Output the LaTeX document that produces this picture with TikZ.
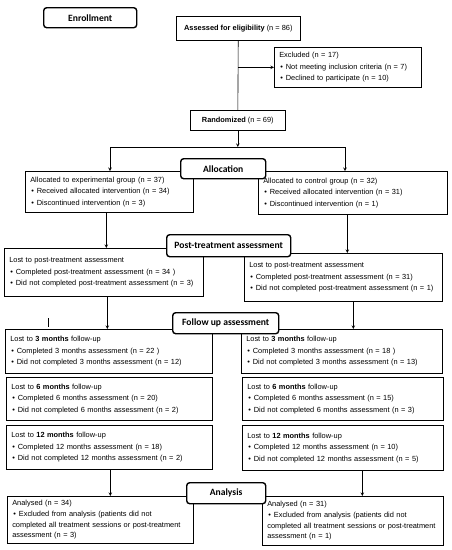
\documentclass[tikz,border=0pt]{standalone}
\usepackage{fontspec}
\setmainfont{Liberation Sans}
\newfontfamily\calibri{Carlito}
\newcommand{\itm}{\hspace*{1pt}\textbullet\hspace{3pt}}

\begin{document}
\begin{tikzpicture}[x=1pt,y=-1pt,>=stealth,line width=0.6pt,
    title node/.style={draw,rounded corners=3pt,line width=1.4pt,fill=white,anchor=north west,inner sep=0pt,font=\calibri\bfseries\fontsize{9.6}{11}\selectfont},
    box node/.style={draw,fill=white,anchor=north west,align=left,inner xsep=5pt,inner ysep=0pt,font=\fontsize{7.4}{11.5}\selectfont}]
                        \useasboundingbox (0,0) rectangle (451,550);

                        \node[title node,minimum width=93pt,minimum height=20pt] (1) at (43,7) {Enrollment};
                        \node[box node,align=center,minimum width=124pt,minimum height=24pt] (2) at (176,16) {\textbf{Assessed for eligibility} (n = 86)};
                        \node[box node,text width=137pt,minimum height=40pt] (3) at (274,47) {Excluded (n = 17)\\ \itm Not meeting inclusion criteria (n = 7)\\ \itm Declined to participate (n = 10)};
                        \node[box node,align=center,minimum width=95pt,minimum height=20pt] (4) at (190,110) {\textbf{Randomized} (n = 69)};

                        \node[box node,text width=158pt,minimum height=41pt] (6) at (25,171) {Allocated to experimental group (n = 37)\\ \itm Received allocated intervention (n = 34)\\ \itm Discontinued intervention (n = 3)};
                        \node[box node,text width=179pt,minimum height=43pt] (7) at (258,171) {Allocated to control group (n = 32)\\ \itm Received allocated intervention (n = 31)\\ \itm Discontinued intervention (n = 1)};
                        \node[title node,minimum width=85pt,minimum height=20pt] (5) at (180,158) {Allocation};

                        \node[box node,text width=189pt,minimum height=48pt] (9) at (4,248) {Lost to post-treatment assessment\\ \itm Completed post-treatment assessment (n = 34 )\\ \itm Did not completed post-treatment assessment (n = 3)};
                        \node[box node,text width=188pt,minimum height=48pt] (10) at (244,253) {Lost to post-treatment assessment\\ \itm Completed post-treatment assessment (n = 31)\\ \itm Did not completed post-treatment assessment (n = 1)};
                        \node[title node,minimum width=124pt,minimum height=22pt] (8) at (166,234) {Post-treatment assessment};

                        \node[box node,text width=197pt,minimum height=44pt] (12) at (5,329) {Lost to \textbf{3 months} follow-up\\ \itm Completed 3 months assessment (n = 22 )\\ \itm Did not completed 3 months assessment (n = 12)};
                        \node[box node,text width=191pt,minimum height=44pt] (13) at (241,329) {Lost to \textbf{3 months} follow-up\\ \itm Completed 3 months assessment (n = 18 )\\ \itm Did not completed 3 months assessment (n = 13)};
                        \node[title node,minimum width=106pt,minimum height=21pt] (11) at (172,312) {Follow up assessment};

                        \node[box node,text width=196pt,minimum height=43pt] (14) at (6,377) {Lost to \textbf{6 months} follow-up\\ \itm Completed 6 months assessment (n = 20)\\ \itm Did not completed 6 months assessment (n = 2)};
                        \node[box node,text width=191pt,minimum height=43pt] (15) at (242,377) {Lost to \textbf{6 months} follow-up\\ \itm Completed 6 months assessment (n = 15)\\ \itm Did not completed 6 months assessment (n = 3)};

                        \node[box node,text width=196pt,minimum height=44pt] (16) at (6,425) {Lost to \textbf{12 months} follow-up\\ \itm Completed 12 months assessment (n = 18)\\ \itm Did not completed 12 months assessment (n = 2)};
                        \node[box node,text width=191pt,minimum height=45pt] (17) at (242,425) {Lost to \textbf{12 months} follow-up\\ \itm Completed 12 months assessment (n = 10)\\ \itm Did not completed 12 months assessment (n = 5)};

                        \node[box node,text width=176pt,minimum height=47pt,font=\fontsize{7.4}{10.8}\selectfont] (19) at (7,496) {Analysed (n = 34)\\ \itm Excluded from analysis (patients did not\\ completed all treatment sessions or post-treatment\\ assessment (n = 3)};
                        \node[box node,text width=171pt,minimum height=49pt,font=\fontsize{7.4}{10.8}\selectfont] (20) at (262,496) {Analysed (n = 31)\\ \itm Excluded from analysis (patients did not\\ completed all treatment sessions or post-treatment\\ assessment (n = 1)};
                        \node[title node,minimum width=79pt,minimum height=21pt] (18) at (186,482) {Analysis};

                        % enrollment
                        \draw (2) -- (4);
                        \draw[->] (2.south |- 3.west) -- (3.west);

                        % split into the two groups
                        \coordinate (splitL) at (110,147);
                        \coordinate (splitR) at (345,147);
                        \draw[->] (4.south) -- (4.south |- splitL);
                        \draw (splitL) -- (splitR);
                        \draw[->] (splitL) -- (splitL |- 6.north);
                        \draw[->] (splitR) -- (splitR |- 7.north);

                        \path[->]
                            ([xshift=-3pt]6.south) edge ([xshift=-3pt]6.south |- 9.north)
                            ([xshift=-5.5pt]7.south) edge ([xshift=-5.5pt]7.south |- 10.north)
                            ([xshift=3.5pt]9.south) edge ([xshift=3.5pt]9.south |- 12.north)
                            ([xshift=10pt]10.south) edge ([xshift=10pt]10.south |- 13.north)
                            ([xshift=1pt]16.south) edge ([xshift=1pt]16.south |- 19.north)
                            ([xshift=19.5pt]17.south) edge ([xshift=19.5pt]17.south |- 20.north)
                        ;

                        \draw (48,318) -- (48,327);

                    \end{tikzpicture}
\end{document}
